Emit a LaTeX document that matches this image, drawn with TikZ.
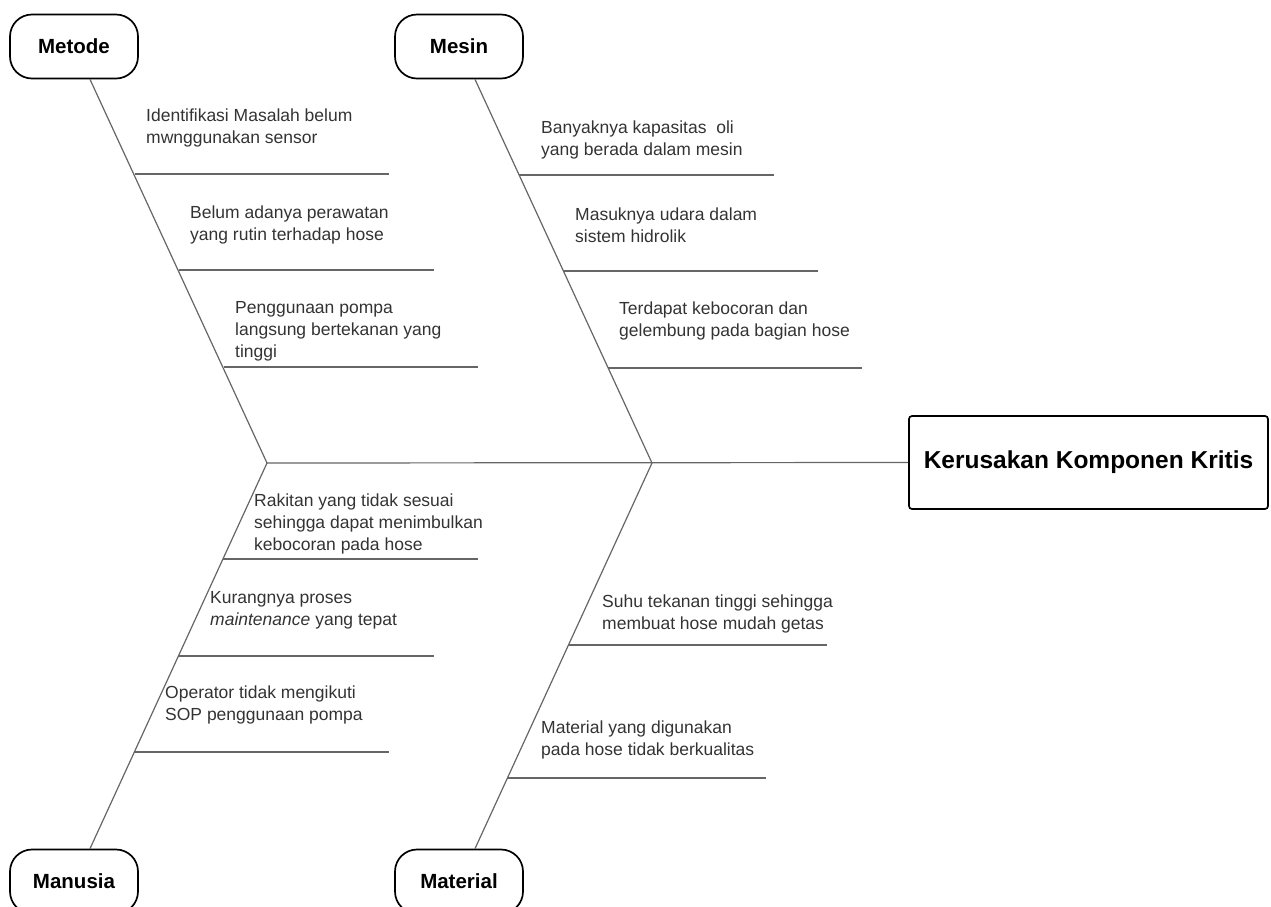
\documentclass[tikz,border=0pt]{standalone}
\usepackage{fontspec}
\setmainfont{Liberation Sans}
\usetikzlibrary{positioning}
\begin{document}
\begin{tikzpicture}[x=1pt,y=-1pt,
    cat/.style={draw,line width=1.7pt,rounded corners=22pt,minimum width=128pt,minimum height=64pt,
      inner sep=0pt,font=\fontsize{20.5}{24}\selectfont\bfseries},
    bone/.style={draw=black!60,line width=1.2pt},
    cause/.style={anchor=west,align=left,inner sep=0pt,text=black!80,
      font=\fontsize{17.5}{22}\selectfont}]
    \useasboundingbox (0,0) rectangle (1271,906);
    %% head and spine
    \node[draw,line width=1.7pt,rounded corners=3pt,minimum width=359pt,minimum height=93pt,
      font=\fontsize{24.5}{29}\selectfont\bfseries] (effect) at (1088.5,462.5) {Kerusakan Komponen Kritis};
    \coordinate (jl) at (267,463);
    \coordinate (jr) at (652,463);
    \draw[bone] (jl) -- (effect.west);
    %% categories
    \node[cat] (metode) at (74,46.5) {Metode};
    \node[cat] (mesin) at (459,46.5) {Mesin};
    \node[cat] (manusia) at (74,881.5) {Manusia};
    \node[cat] (material) at (459,881.5) {Material};
    \draw[bone] ([xshift=16pt]metode.south) -- (jl);
    \draw[bone] ([xshift=16pt]mesin.south) -- (jr);
    \draw[bone] ([xshift=16pt]manusia.north) -- (jl);
    \draw[bone] ([xshift=16pt]material.north) -- (jr);
    %% Metode
    \draw[bone] (135,174) -- (389,174);
    \draw[bone] (179,270) -- (434,270);
    \draw[bone] (224,367) -- (478,367);
    \node[cause] (m1) at (146,128) {Identifikasi Masalah belum\\mwnggunakan sensor};
    \node[cause] (m2) at (190,224.5) {Belum adanya perawatan\\yang rutin terhadap hose};
    \node[cause] (m3) at (235,331) {Penggunaan pompa\\langsung bertekanan yang\\tinggi};
    %% Mesin
    \draw[bone] (519,175) -- (774,175);
    \draw[bone] (563,271) -- (818,271);
    \draw[bone] (608,368) -- (862,368);
    \node[cause] (s1) at (541,140) {Banyaknya kapasitas\ \ oli\\yang berada dalam mesin};
    \node[cause] (s2) at (575,225) {Masuknya udara dalam\\sistem hidrolik};
    \node[cause] (s3) at (619,321) {Terdapat kebocoran dan\\gelembung pada bagian hose};
    %% Manusia
    \draw[bone] (223,559) -- (478,559);
    \draw[bone] (178,656) -- (434,656);
    \draw[bone] (134,752) -- (389,752);
    \node[cause] (h1) at (254,524) {Rakitan yang tidak sesuai\\sehingga dapat menimbulkan\\kebocoran pada hose};
    \node[cause] (h2) at (210,610) {Kurangnya proses\\\textit{maintenance} yang tepat};
    \node[cause] (h3) at (165,705) {Operator tidak mengikuti\\SOP penggunaan pompa};
    %% Material
    \draw[bone] (568,645) -- (827,645);
    \draw[bone] (507,778) -- (766,778);
    \node[cause] (t1) at (602,614) {Suhu tekanan tinggi sehingga\\membuat hose mudah getas};
    \node[cause] (t2) at (541,740) {Material yang digunakan\\pada hose tidak berkualitas};
\end{tikzpicture}
\end{document}
